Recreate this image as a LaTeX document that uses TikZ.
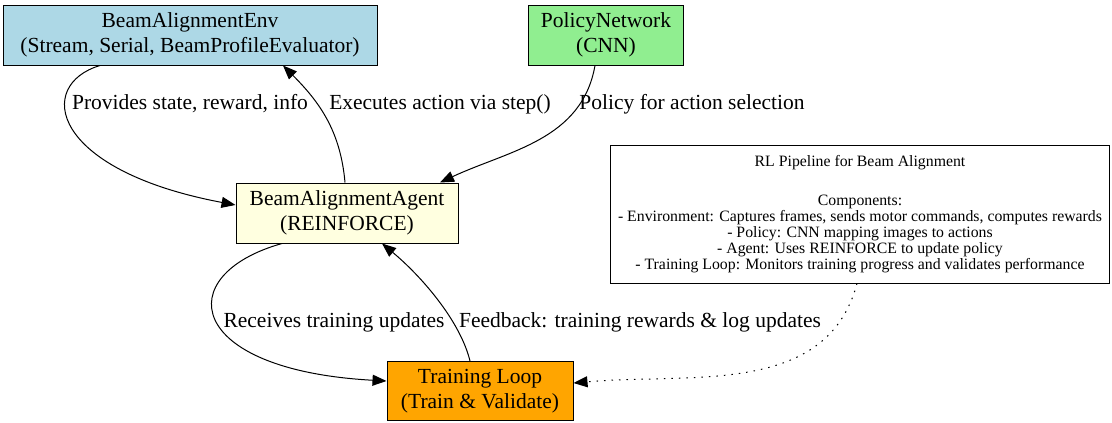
\documentclass[tikz,border=0pt]{standalone}
\usepackage{fontspec}
\setmainfont{Liberation Serif}
\usetikzlibrary{arrows.meta}

\begin{document}
\begin{tikzpicture}[x=1pt,y=-1pt,
	box/.style={draw, line width=1pt, align=center, inner sep=0pt,
		font=\fontsize{21.5}{25}\selectfont},
	lbl/.style={inner sep=0pt, font=\fontsize{21.5}{25}\selectfont},
	flow/.style={line width=1pt, -{Triangle[length=14pt,width=11pt]}}]

	\useasboundingbox (0,0) rectangle (1112,423);

	% components
	\node[box, fill={rgb,255:red,173;green,216;blue,230}, minimum width=374pt, minimum height=60pt]
		(env) at (190,35) {BeamAlignmentEnv\\(Stream, Serial, BeamProfileEvaluator)};
	\node[box, fill={rgb,255:red,144;green,238;blue,144}, minimum width=155pt, minimum height=60pt]
		(policy) at (606,35) {PolicyNetwork\\(CNN)};
	\node[box, fill={rgb,255:red,255;green,255;blue,224}, minimum width=222pt, minimum height=60pt]
		(agent) at (347,213) {BeamAlignmentAgent\\(REINFORCE)};
	\node[box, fill={rgb,255:red,255;green,165;blue,0}, minimum width=186pt, minimum height=59pt]
		(train) at (480,391) {Training Loop\\(Train \& Validate)};

	% note
	\node[box, fill=white, minimum width=499pt, minimum height=138pt,
		font=\fontsize{15.8}{16}\selectfont] (note) at (860,214)
		{RL Pipeline for Beam Alignment\\[23pt]
		Components:\\
		- Environment: Captures frames, sends motor commands, computes rewards\\
		- Policy: CNN mapping images to actions\\
		- Agent: Uses REINFORCE to update policy\\
		- Training Loop: Monitors training progress and validates performance};

	% edge labels
	\node[lbl] (l1) at (190,104) {Provides state, reward, info};
	\node[lbl] (l2) at (440,104) {Executes action via step()};
	\node[lbl] (l3) at (692,104) {Policy for action selection};
	\node[lbl] (l4) at (334,322) {Receives training updates};
	\node[lbl] (l5) at (640,322) {Feedback: training rewards \& log updates};

	% edges
	\draw[flow] ([xshift=-90pt]env.south) .. controls (35,85) and (50,170) .. ([yshift=8pt]agent.west);
	\draw[flow] ([xshift=-2pt]agent.north) to[out=95, in=-45] ([xshift=93pt]env.south);
	\draw[flow] ([xshift=-11pt]policy.south) to[out=-100, in=25] ([xshift=93pt]agent.north);
	\draw[flow] ([xshift=-65pt]agent.south) .. controls (170,275) and (185,370) .. ([yshift=10pt]train.west);
	\draw[flow] ([xshift=-10pt]train.north) .. controls (460,320) and (420,275) .. ([xshift=35pt]agent.south);
	\draw[flow, dash pattern=on 1.5pt off 6pt] ([xshift=-3pt]note.south) to[out=-105, in=5] ([yshift=8pt]train.east);

\end{tikzpicture}
\end{document}
